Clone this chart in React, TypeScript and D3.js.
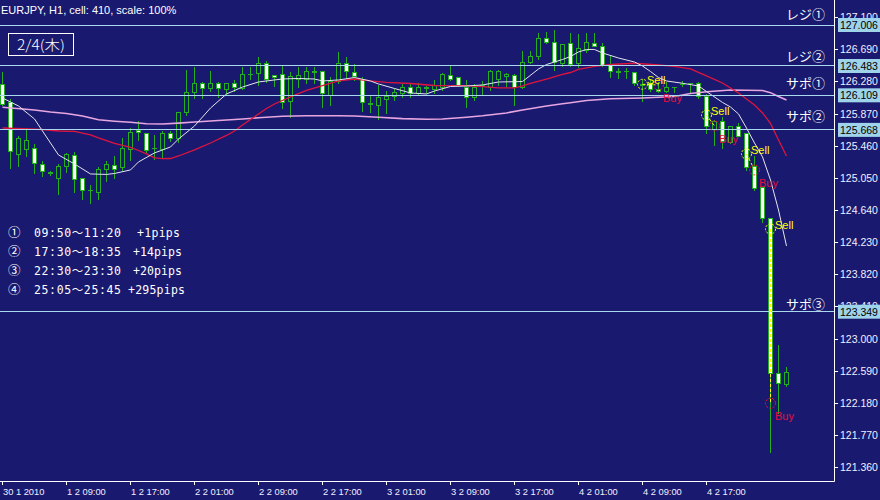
import React from 'react';
import * as d3 from 'd3';

const W = 880;
const H = 500;

// ---------- data ----------
const xTickBars = [0, 8, 16, 24, 32, 40, 48, 56, 64, 72, 80, 88];
const xTickLabels = ['30 1 2010', '1 2 09:00', '1 2 17:00', '2 2 01:00', '2 2 09:00', '2 2 17:00', '3 2 01:00', '3 2 09:00', '3 2 17:00', '4 2 01:00', '4 2 09:00', '4 2 17:00'];
const yTicks = [127.1, 126.69, 126.28, 125.87, 125.46, 125.05, 124.64, 124.23, 123.82, 123.41, 123.0, 122.59, 122.18, 121.77, 121.36];

const open = [126.241,126.011,125.348,125.412,125.425,125.221,125.118,125.042,125.195,125.335,125.042,124.889,124.863,125.169,125.208,125.182,125.412,125.654,125.616,125.425,125.412,125.616,125.552,125.884,126.139,126.266,126.190,126.266,126.177,126.266,126.190,126.369,126.381,126.509,126.356,126.369,126.024,126.317,126.317,126.394,126.407,126.113,126.279,126.509,126.394,126.317,125.998,125.973,126.062,126.088,126.126,126.203,126.126,126.203,126.177,126.215,126.356,126.340,126.203,126.075,126.228,126.203,126.317,126.343,126.356,126.203,126.534,126.598,126.840,126.789,126.509,126.764,126.509,126.687,126.764,126.738,126.483,126.407,126.407,126.394,126.241,126.266,126.180,126.164,126.215,126.241,126.266,126.266,126.088,125.667,125.769,125.501,125.705,125.616,125.195,124.927,124.532,122.564,122.423];
const high = [126.407,126.062,125.590,125.692,125.488,125.272,125.144,125.233,125.374,125.386,125.042,124.965,125.195,125.272,125.335,125.565,125.692,125.782,125.616,125.603,125.654,125.654,125.900,126.432,126.470,126.279,126.419,126.279,126.266,126.305,126.470,126.470,126.598,126.547,126.369,126.496,126.407,126.470,126.470,126.470,126.410,126.343,126.662,126.598,126.509,126.343,126.101,126.241,126.164,126.203,126.254,126.266,126.266,126.228,126.305,126.394,126.496,126.346,126.305,126.254,126.292,126.432,126.432,126.394,126.381,126.674,126.674,126.904,126.917,126.942,126.764,126.904,126.891,126.904,126.904,126.777,126.611,126.458,126.458,126.407,126.317,126.317,126.279,126.279,126.218,126.292,126.269,126.279,126.126,125.794,125.833,125.710,125.756,125.629,125.335,124.940,124.544,122.925,122.648];
const low = [125.986,125.182,125.208,125.335,125.118,125.080,125.093,124.851,125.131,124.876,124.787,124.736,124.787,125.016,125.055,125.157,125.284,125.539,125.386,125.297,125.323,125.527,125.514,125.858,126.075,126.075,126.164,126.088,126.113,126.164,126.185,126.317,126.241,126.279,126.228,125.947,125.833,126.215,126.266,126.266,125.960,125.986,126.266,126.343,126.305,125.909,125.896,125.807,125.884,126.050,126.088,126.088,126.113,126.139,126.139,126.177,126.305,126.228,125.960,126.050,126.113,126.177,126.241,126.228,125.986,126.200,126.521,126.572,126.777,126.432,126.483,126.483,126.470,126.662,126.735,126.480,126.343,126.330,126.330,126.241,126.037,126.164,126.152,126.152,126.152,126.228,126.139,126.075,125.629,125.476,125.437,125.498,125.585,125.157,124.902,124.493,121.564,122.057,122.405];
const close = [125.998,125.386,125.552,125.539,125.233,125.131,125.120,125.195,125.348,125.029,124.889,124.889,125.169,125.221,125.169,125.425,125.641,125.629,125.399,125.425,125.616,125.552,125.896,126.139,126.266,126.190,126.266,126.190,126.266,126.215,126.369,126.371,126.509,126.317,126.330,126.011,126.343,126.356,126.407,126.419,126.126,126.279,126.521,126.407,126.343,126.011,126.000,126.075,126.088,126.139,126.203,126.126,126.203,126.190,126.228,126.369,126.317,126.232,126.075,126.203,126.225,126.419,126.407,126.369,126.215,126.534,126.598,126.828,126.789,126.534,126.751,126.496,126.700,126.777,126.738,126.483,126.407,126.405,126.409,126.254,126.239,126.177,126.152,126.203,126.215,126.241,126.266,126.088,125.705,125.769,125.514,125.705,125.590,125.182,124.914,124.544,122.555,122.436,122.576];

const maFastBars = [0,2,4,5,7,9,11,13,14,16,17,19,21,22,24,26,28,30,32,34,35,37,39,40,42,44,46,47,49,51,53,54,56,58,60,62,65,67,68,70,71,72,73,74,75,77,79,80,81,82,83,85,87,88,90,91,92,93,94,95,96,97,98];
const maFast = [126.075,125.973,125.807,125.654,125.348,125.233,125.106,125.100,125.112,125.157,125.259,125.374,125.450,125.552,125.718,125.947,126.126,126.215,126.279,126.305,126.317,126.324,126.317,126.292,126.305,126.336,126.292,126.254,126.196,126.139,126.126,126.164,126.222,126.228,126.241,126.279,126.285,126.445,126.502,126.566,126.604,126.662,126.694,126.694,126.649,126.585,126.534,126.483,126.413,126.336,126.292,126.263,126.228,126.158,126.018,125.960,125.871,125.692,125.501,125.323,125.029,124.646,124.187];

const maMidBars = [0,5,7,9,11,12,14,16,17,18,19,20,21,22,24,26,28,29,30,32,33,34,36,38,40,42,44,46,48,51,54,58,60,62,64,65,66,68,70,71,72,74,76,79,82,84,86,88,90,92,94,95,96,97,98];
const maMid = [125.692,125.673,125.654,125.648,125.603,125.565,125.495,125.444,125.405,125.361,125.310,125.301,125.303,125.335,125.412,125.501,125.597,125.654,125.731,125.871,125.941,125.998,126.088,126.171,126.234,126.292,126.317,126.292,126.275,126.260,126.234,126.232,126.219,126.203,126.203,126.228,126.260,126.317,126.375,126.400,126.439,126.477,126.502,126.518,126.496,126.479,126.445,126.356,126.266,126.139,125.986,125.884,125.750,125.539,125.335];

const maSlowBars = [0,4,6,8,10,12,14,16,18,20,22,24,27,30,32,35,38,42,44,47,50,53,55,58,60,63,65,68,70,71,73,76,80,84,86,88,91,95,96,97,98];
const maSlow = [125.956,125.922,125.896,125.877,125.845,125.797,125.779,125.765,125.746,125.743,125.754,125.769,125.788,125.807,125.822,125.842,125.849,125.849,125.845,125.830,125.812,125.803,125.807,125.829,125.848,125.884,125.922,125.973,126.002,126.015,126.043,126.065,126.075,126.094,126.132,126.155,126.177,126.170,126.143,126.094,126.050];

const levelPrices = [127.006, 126.483, 126.109, 125.668, 123.349];
const levelNames = ['レジ①', 'レジ②', 'サポ①', 'サポ②', 'サポ③'];

const sellBars = [80, 88, 93, 96];
const sellPrices = [126.250, 125.858, 125.361, 124.404];
const buyBars = [82, 89, 94, 96];
const buyPrices = [126.241, 125.718, 125.157, 122.181];

const legendNums = ['①', '②', '③', '④'];
const legendTimes = ['09:50～11:20', '17:30～18:35', '22:30～23:30', '25:05～25:45'];
const legendPips = ['+1pips', '+14pips', '+20pips', '+295pips'];

const headerText = 'EURJPY, H1, cell: 410, scale: 100%';
const dateText = '2/4(木)';

// ---------- styles ----------
const BG = '#191970';
const GREEN = '#22b022';
const LEVEL = '#aad8ee';
const LABELBOX = '#9fd3ea';
const AXIS_TXT = '#f0f0ff';
const SANS = "'Liberation Sans', Arial, sans-serif";
const JP = "'Noto Sans CJK JP', sans-serif";
const MONO = "'DejaVu Sans Mono', 'Noto Sans CJK JP', monospace";
const levelLabelGap = [6, 5, 7, 9, 3];
const pipsX = [137, 133, 133, 128];
const pipsLen = [43, 49, 49, 57];

const PLOT_R = 834;
const PLOT_B = 481;

const x = d3.scaleLinear().domain([0, 98]).range([2.5, 786.5]);
const y = d3.scaleLinear().domain([121.36, 127.006]).range([467.6, 25]);
const crisp = (v: number) => Math.round(v) + 0.5;

function maPath(bars: number[], vals: number[]) {
  const pts: [number, number][] = bars.map((b, i) => [x(b), y(vals[i])]);
  return d3.line()(pts) || '';
}

export default function App() {
  const candles = open.map((o, i) => {
    const c = close[i];
    const cx = x(i);
    const yH = y(high[i]);
    const yL = y(low[i]);
    const top = crisp(y(Math.max(o, c)) - 0.5);
    const bot = crisp(y(Math.min(o, c)) - 0.5);
    const bull = c >= o;
    const h = bot - top;
    return (
      <g key={i}>
        <line x1={cx} x2={cx} y1={Math.round(yH)} y2={Math.round(yL) + 1} stroke={GREEN} strokeWidth={1} />
        {h >= 1 ? (
          <rect x={cx - 2} y={top} width={4} height={h} fill={bull ? BG : '#ffffff'} stroke={GREEN} strokeWidth={1} />
        ) : (
          <line x1={cx - 2.5} x2={cx + 2.5} y1={top} y2={top} stroke={GREEN} strokeWidth={1} />
        )}
      </g>
    );
  });

  return (
    <svg width={W} height={H} style={{ position: 'absolute', left: 0, top: 0, display: 'block' }} xmlns="http://www.w3.org/2000/svg">
      <rect x={0} y={0} width={W} height={H} fill={BG} />

      {/* candles */}
      <g>{candles}</g>

      {/* moving averages */}
      <path d={maPath(maSlowBars, maSlow)} fill="none" stroke="#e8a6e0" strokeWidth={1.6} />
      <path d={maPath(maMidBars, maMid)} fill="none" stroke="#e0143c" strokeWidth={1.3} />
      <path d={maPath(maFastBars, maFast)} fill="none" stroke="#e4e4ee" strokeWidth={1} />

      {/* level lines */}
      {levelPrices.map((p, i) => (
        <line key={'lv' + i} x1={0} x2={PLOT_R} y1={crisp(y(p) - 0.5)} y2={crisp(y(p) - 0.5)} stroke={LEVEL} strokeWidth={1} />
      ))}
      {levelPrices.map((p, i) => (
        <text key={'ln' + i} x={786} y={y(p) - levelLabelGap[i]} fill="#ffffff" fontFamily={JP} fontSize={13}>{levelNames[i]}</text>
      ))}

      {/* trades */}
      {sellBars.map((b, i) => {
        const sx = x(sellBars[i]);
        const sy = y(sellPrices[i]);
        const bx = x(buyBars[i]);
        const by = y(buyPrices[i]);
        return (
          <g key={'tr' + i}>
            <line x1={sx} y1={sy} x2={bx} y2={by} stroke="#ffff00" strokeWidth={1} strokeDasharray="3,2" />
            <circle cx={sx} cy={sy} r={5} fill="none" stroke="#ffff00" strokeWidth={1} strokeDasharray="2,1.5" />
            <circle cx={bx} cy={by} r={5} fill="none" stroke="#ff1020" strokeWidth={1} strokeDasharray="2,1.5" />
            <text x={sx + 4.5} y={sy} fill="#ffff00" fontFamily={SANS} fontSize={11}>Sell</text>
            <text x={bx + 4.5} y={by + 17} fill="#e8103c" fontFamily={SANS} fontSize={11}>Buy</text>
          </g>
        );
      })}

      {/* header */}
      <text x={1} y={14} fill="#ffffff" fontFamily={SANS} fontSize={11}>{headerText}</text>
      <rect x={8.5} y={33.5} width={65} height={22} fill="none" stroke="#ffffff" strokeWidth={1} />
      <text x={17} y={50} fill="#ffffff" fontFamily={JP} fontSize={14} fontWeight={300} textLength={48} lengthAdjust="spacingAndGlyphs">{dateText}</text>

      {/* legend */}
      {legendNums.map((n, i) => {
        const by = 237 + i * 19;
        return (
          <g key={'lg' + i}>
            <text x={8} y={by} fill="#ffffff" fontFamily={JP} fontSize={12.5}>{n}</text>
            <text x={34} y={by} fill="#ffffff" fontFamily={MONO} fontSize={11.5} textLength={87} lengthAdjust="spacing">{legendTimes[i]}</text>
            <text x={pipsX[i]} y={by} fill="#ffffff" fontFamily={MONO} fontSize={11.5} textLength={pipsLen[i]} lengthAdjust="spacing">{legendPips[i]}</text>
          </g>
        );
      })}

      {/* frame */}
      <line x1={PLOT_R + 0.5} x2={PLOT_R + 0.5} y1={0} y2={PLOT_B + 0.5} stroke="#ffffff" strokeWidth={1} />
      <line x1={0} x2={PLOT_R + 0.5} y1={PLOT_B + 0.5} y2={PLOT_B + 0.5} stroke="#ffffff" strokeWidth={1} />

      {/* y axis */}
      {yTicks.map((t, i) => {
        const ty = crisp(y(t) - 0.5);
        return (
          <g key={'yt' + i}>
            <line x1={PLOT_R + 1} x2={PLOT_R + 4} y1={ty} y2={ty} stroke="#ffffff" strokeWidth={1} />
            <text x={840} y={ty + 3.5} fill={AXIS_TXT} fontFamily={SANS} fontSize={10.5}>{t.toFixed(3)}</text>
          </g>
        );
      })}
      {levelPrices.map((p, i) => {
        const ly = y(p);
        return (
          <g key={'lb' + i}>
            <rect x={838} y={ly - 7} width={42} height={14} fill={LABELBOX} />
            <text x={840} y={ly + 4} fill="#000000" fontFamily={SANS} fontSize={10.5}>{p.toFixed(3)}</text>
          </g>
        );
      })}

      {/* x axis */}
      {xTickBars.map((b, i) => {
        const tx = crisp(x(b) - 0.5);
        return (
          <g key={'xt' + i}>
            <line x1={tx} x2={tx} y1={PLOT_B + 1} y2={PLOT_B + 4} stroke="#ffffff" strokeWidth={1} />
            <text x={tx + 0.5} y={495} fill={AXIS_TXT} fontFamily={SANS} fontSize={9.3}>{xTickLabels[i]}</text>
          </g>
        );
      })}
    </svg>
  );
}
